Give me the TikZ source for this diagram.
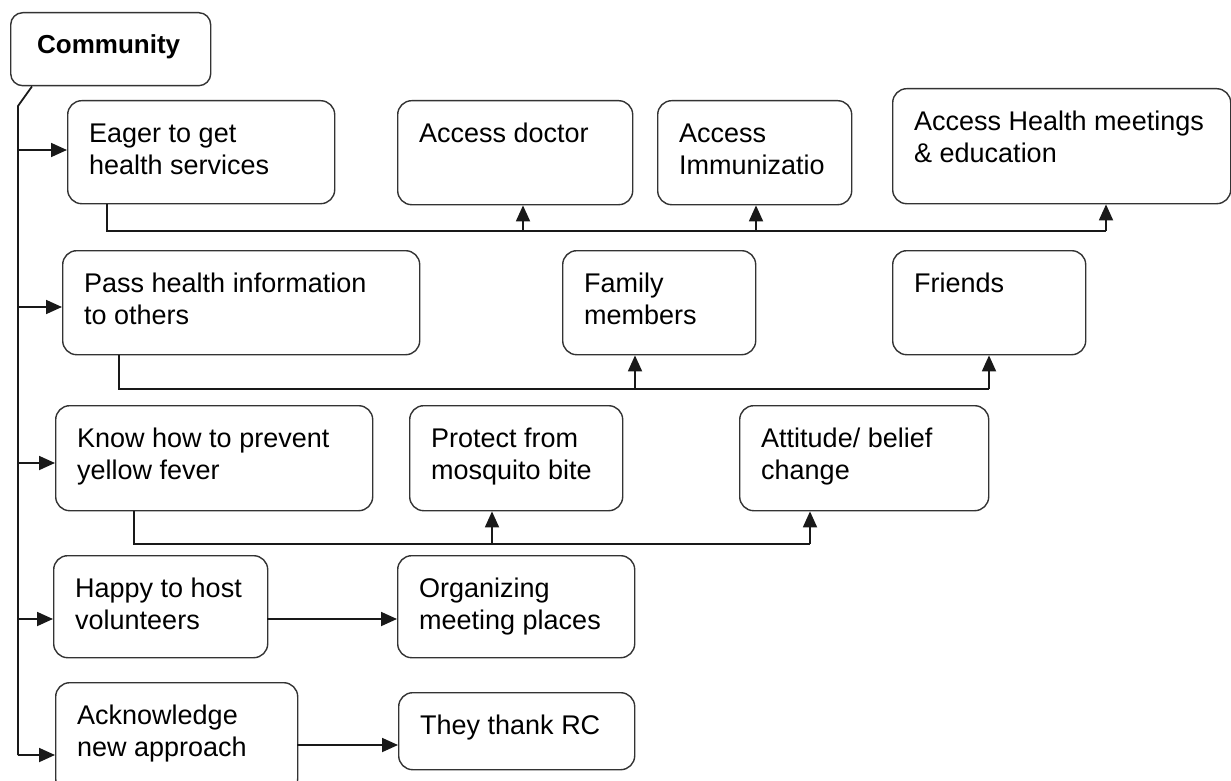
\documentclass[tikz,border=0pt]{standalone}
\usepackage{fontspec}
\setmainfont{Liberation Sans}
\usetikzlibrary{arrows.meta}

% #1 name, #2 left, #3 top, #4 width, #5 height, #6 text (top-left aligned)
\newcommand\mkbox[6]{%
  \node[box, minimum width=#4pt, minimum height=#5pt] (#1) at (#2,#3) {};
  \node[txt] (#1-t) at ([shift={(22pt,-22pt)}]#1.north west) {\rule{0pt}{20pt}#6};
}

\begin{document}
\begin{tikzpicture}[x=1pt, y=-1pt,
  box/.style={draw=black!80, line width=1.4pt, rounded corners=14pt,
              inner sep=0pt, anchor=north west},
  txt/.style={inner sep=0pt, align=left, anchor=north west,
              font=\fontsize{27}{32}\selectfont},
  link/.style={line width=1.8pt, draw=black!90},
  arr/.style={link, -{Triangle[length=16pt,width=14pt]}}]
\useasboundingbox (0,0) rectangle (1231,781);
\clip (0,0) rectangle (1231,781);

% root
\node[box, minimum width=200pt, minimum height=73pt, rounded corners=12pt] (comm) at (10,12) {};
\node[txt, font=\bfseries\fontsize{26}{30}\selectfont] (comm-t)
  at ([shift={(27pt,-21pt)}]comm.north west) {\rule{0pt}{20pt}Community};

% row 1
\mkbox{eager}{67}{100}{267}{103}{Eager to get\\health services}
\mkbox{doctor}{397}{100}{235}{104}{Access doctor}
\mkbox{immun}{657}{100}{194}{104}{Access\\Immunizatio}
\mkbox{meet}{892}{88}{338}{115}{Access Health meetings\\\& education}

% row 2
\mkbox{pass}{62}{250}{357}{104}{Pass health information\\to others}
\mkbox{family}{562}{250}{193}{104}{Family\\members}
\mkbox{friends}{892}{250}{193}{104}{Friends}

% row 3
\mkbox{know}{55}{405}{317}{105}{Know how to prevent\\yellow fever}
\mkbox{protect}{409}{405}{213}{105}{Protect from\\mosquito bite}
\mkbox{attitude}{739}{405}{249}{105}{Attitude/ belief\\change}

% row 4
\mkbox{happy}{53}{555}{214}{102}{Happy to host\\volunteers}
\mkbox{organize}{397}{555}{237}{102}{Organizing\\meeting places}

% row 5
\mkbox{ack}{55}{682}{242}{110}{Acknowledge\\new approach}
\mkbox{thanks}{398}{692}{236}{77}{They thank RC}

% trunk from the root
\coordinate (bend) at (18,106);
\coordinate (t1) at (18,150);
\coordinate (t2) at (18,307);
\coordinate (t3) at (18,463);
\coordinate (t4) at (18,619);
\coordinate (t5) at (18,755);
\draw[link] ([xshift=22pt]comm.south west) -- (bend) -- (t5);
\draw[arr] (t1) -- (t1 -| eager.west);
\draw[arr] (t2) -- (t2 -| pass.west);
\draw[arr] (t3) -- (t3 -| know.west);
\draw[arr] (t4) -- (t4 -| happy.west);
\draw[arr] (t5) -- (t5 -| ack.west);

% row 1 branches
\coordinate (a0) at (107,231);
\coordinate (a1) at (523,231);
\coordinate (a2) at (756,231);
\coordinate (a3) at (1106,231);
\draw[link] (a0 |- eager.south) -- (a0) -- (a3);
\draw[arr] (a1) -- (a1 |- doctor.south);
\draw[arr] (a2) -- (a2 |- immun.south);
\draw[arr] (a3) -- (a3 |- meet.south);

% row 2 branches
\coordinate (b0) at (119,389);
\coordinate (b1) at (635,389);
\coordinate (b2) at (989,389);
\draw[link] (b0 |- pass.south) -- (b0) -- (b2);
\draw[arr] (b1) -- (b1 |- family.south);
\draw[arr] (b2) -- (b2 |- friends.south);

% row 3 branches
\coordinate (c0) at (134,544);
\coordinate (c1) at (492,544);
\coordinate (c2) at (810,544);
\draw[link] (c0 |- know.south) -- (c0) -- (c2);
\draw[arr] (c1) -- (c1 |- protect.south);
\draw[arr] (c2) -- (c2 |- attitude.south);

% rows 4 and 5
\coordinate (d0) at (267,619);
\draw[arr] (d0) -- (d0 -| organize.west);
\coordinate (e0) at (297,745);
\draw[arr] (e0) -- (e0 -| thanks.west);
\end{tikzpicture}
\end{document}
